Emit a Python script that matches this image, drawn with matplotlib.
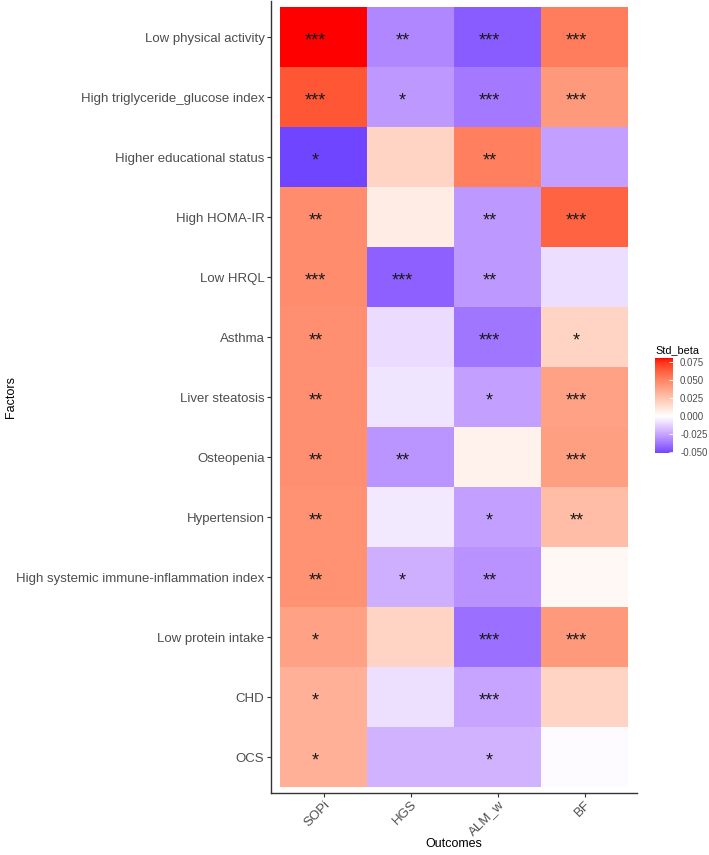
import numpy as np
import matplotlib
matplotlib.use("Agg")
import matplotlib.pyplot as plt
from matplotlib.colors import ListedColormap, Normalize

plt.rcParams['font.family'] = ['Liberation Sans', 'DejaVu Sans']
plt.rcParams['axes.unicode_minus'] = False

factors = ["Low physical activity", "High triglyceride_glucose index",
           "Higher educational status", "High HOMA-IR", "Low HRQL", "Asthma",
           "Liver steatosis", "Osteopenia", "Hypertension",
           "High systemic immune-inflammation index", "Low protein intake",
           "CHD", "OCS"]
outcomes = ["SOPi", "HGS", "ALM_w", "BF"]

# standardised beta, one list per outcome (rows follow factors)
sopi = [0.0806, 0.066, -0.0514, 0.047, 0.047, 0.046, 0.046, 0.046, 0.045,
        0.045, 0.039, 0.033, 0.033]
hgs = [-0.033, -0.028, 0.018, 0.008, -0.044, -0.0095, -0.007, -0.029, -0.006,
       -0.022, 0.018, -0.0085, -0.021]
alm_w = [-0.045, -0.037, 0.052, -0.028, -0.028, -0.038, -0.026, 0.006, -0.026,
         -0.030, -0.040, -0.025, -0.021]
bf = [0.053, 0.042, -0.026, 0.062, -0.009, 0.018, 0.039, 0.040, 0.028,
      0.003, 0.042, 0.018, -0.001]

sig_sopi = ["***", "***", "*", "**", "***", "**", "**", "**", "**", "**", "*", "*", "*"]
sig_hgs = ["**", "*", "", "", "***", "", "", "**", "", "*", "", "", ""]
sig_alm_w = ["***", "***", "**", "**", "**", "***", "*", "", "*", "**", "***", "***", "*"]
sig_bf = ["***", "***", "", "***", "", "*", "***", "***", "**", "", "***", "", ""]

beta = np.column_stack([sopi, hgs, alm_w, bf])
stars = np.column_stack([sig_sopi, sig_hgs, sig_alm_w, sig_bf])


# blue - white - red scale, interpolated in CIE Lab
def srgb_to_lab(rgb):
    rgb = np.asarray(rgb, float)
    lin = np.where(rgb <= 0.04045, rgb / 12.92, ((rgb + 0.055) / 1.055) ** 2.4)
    m = np.array([[0.4124, 0.3576, 0.1805],
                  [0.2126, 0.7152, 0.0722],
                  [0.0193, 0.1192, 0.9505]])
    xyz = lin @ m.T / np.array([0.95047, 1.0, 1.08883])
    f = np.where(xyz > 0.008856, np.cbrt(xyz), 7.787 * xyz + 16 / 116)
    return np.stack([116 * f[..., 1] - 16, 500 * (f[..., 0] - f[..., 1]),
                     200 * (f[..., 1] - f[..., 2])], axis=-1)


def lab_to_srgb(lab):
    lab = np.asarray(lab, float)
    fy = (lab[..., 0] + 16) / 116
    fx = fy + lab[..., 1] / 500
    fz = fy - lab[..., 2] / 200
    f = np.stack([fx, fy, fz], axis=-1)
    xyz = np.where(f ** 3 > 0.008856, f ** 3, (f - 16 / 116) / 7.787)
    xyz = xyz * np.array([0.95047, 1.0, 1.08883])
    m = np.array([[3.2406, -1.5372, -0.4986],
                  [-0.9689, 1.8758, 0.0415],
                  [0.0557, -0.2040, 1.0570]])
    lin = np.clip(xyz @ m.T, 0, 1)
    rgb = np.where(lin <= 0.0031308, 12.92 * lin, 1.055 * lin ** (1 / 2.4) - 0.055)
    return np.clip(rgb, 0, 1)


lab_low = srgb_to_lab([0, 0, 1])
lab_mid = srgb_to_lab([1, 1, 1])
lab_high = srgb_to_lab([1, 0, 0])
vmin, vmax = beta.min(), beta.max()
neg_full = 0.064   # value at which the low end would reach pure blue
pos_full = vmax

vals = np.linspace(vmin, vmax, 512)
tn = np.clip(-vals / neg_full, 0, 1)[:, None]
tp = np.clip(vals / pos_full, 0, 1)[:, None]
lab = np.where(vals[:, None] < 0,
               lab_mid + tn * (lab_low - lab_mid),
               lab_mid + tp * (lab_high - lab_mid))
cmap = ListedColormap(lab_to_srgb(lab))
norm = Normalize(vmin=vmin, vmax=vmax)

fig = plt.figure(figsize=(7.09, 8.55), dpi=100)
ax = fig.add_axes([0.3827, 0.0725, 0.5154, 0.9263])

nrow, ncol = beta.shape
xe = np.arange(ncol + 1) + 0.5
ye = np.arange(nrow + 1) + 0.5
mesh = ax.pcolormesh(xe, ye, beta, cmap=cmap, norm=norm, linewidth=0)

for i in range(nrow):
    for j in range(ncol):
        if stars[i, j]:
            ax.text(j + 1 - 0.09, i + 1.06, stars[i, j], ha='center', va='center',
                    fontsize=13, color='#1a1a1a')

ax.set_xlim(0.4, ncol + 0.6)
ax.set_ylim(nrow + 0.6, 0.4)
ax.set_xticks(np.arange(1, ncol + 1))
ax.set_xticklabels(outcomes, rotation=45, ha='right', rotation_mode='anchor')
ax.set_yticks(np.arange(1, nrow + 1))
ax.set_yticklabels(factors)
ax.tick_params(axis='both', labelsize=9.5, labelcolor='#4D4D4D', color='#333333',
               length=3, width=0.8, pad=2)
ax.tick_params(axis='x', pad=1)
for side in ['top', 'right']:
    ax.spines[side].set_visible(False)
for side in ['left', 'bottom']:
    ax.spines[side].set_color('#333333')
    ax.spines[side].set_linewidth(1.0)

ax.set_xlabel("Outcomes", fontsize=9, color='black', labelpad=0)
ax.set_ylabel("Factors", fontsize=9, color='black')
ax.yaxis.set_label_coords(-0.695, 0.5)

cax = fig.add_axes([0.924, 0.470, 0.0254, 0.111])
cticks = [-0.05, -0.025, 0, 0.025, 0.05, 0.075]
cbar = fig.colorbar(mesh, cax=cax, ticks=cticks)
cbar.ax.set_yticklabels([f"{v:.3f}" for v in cticks])
cbar.outline.set_visible(False)
cbar.ax.tick_params(labelsize=7, labelcolor='#4D4D4D', color='white',
                    direction='in', length=3, width=0.6, pad=5)
cbar.ax.set_title("Std_beta", fontsize=7.8, loc='left', pad=4)

fig.savefig("out.png", dpi=100)
